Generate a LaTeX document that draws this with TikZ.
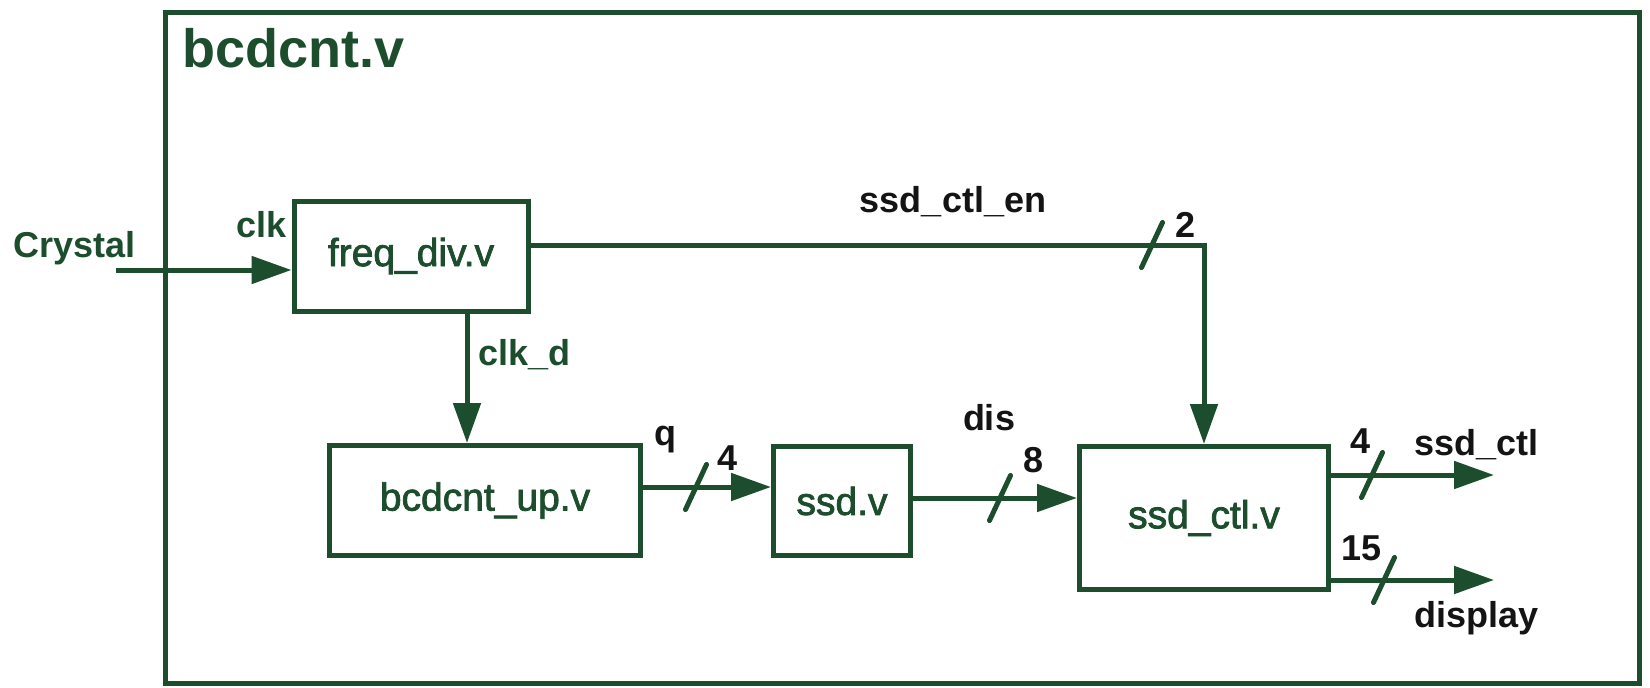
\documentclass[tikz,border=0pt]{standalone}
\usepackage{fontspec}
\setmainfont{Liberation Sans}
\newfontfamily\boxfont{Liberation Sans}[BoldFont={Liberation Sans},BoldFeatures={FakeBold=2}]
\usetikzlibrary{arrows.meta}
\definecolor{dg}{RGB}{28,77,44}
\definecolor{ink}{RGB}{20,20,20}
\tikzset{
  blk/.style={draw=dg, line width=5pt, fill=white, text=dg, font=\boxfont\fontsize{39}{43}\selectfont\bfseries, inner sep=0pt},
  sig/.style={draw=dg, line width=5pt},
  sigarr/.style={sig, -{Triangle[length=40pt,width=27pt]}},
  slash/.style={draw=dg, line width=5pt, line cap=round},
  glab/.style={text=dg, font=\fontsize{36}{40}\selectfont\bfseries, inner sep=0pt},
  klab/.style={text=ink, font=\fontsize{36}{40}\selectfont\bfseries, inner sep=0pt},
}
\begin{document}
\begin{tikzpicture}[x=1pt,y=-1pt]
\useasboundingbox (0,0) rectangle (1650,688);
\fill[white] (0,0) rectangle (1650,688);
% outer module
\draw[sig] (165.5,12.5) rectangle (1639.5,683);
\node[glab, anchor=base west, font=\fontsize{54}{60}\selectfont\bfseries] (title) at (182,67) {bcdcnt.v};
% blocks
\node[blk, minimum width=234pt, minimum height=110pt] (fd) at (411,256) {freq\_div.v};
\node[blk, minimum width=311pt, minimum height=110pt] (bu) at (485,500.5) {bcdcnt\_up.v};
\node[blk, minimum width=137pt, minimum height=109pt] (sd) at (842,501) {ssd.v};
\node[blk, minimum width=249pt, minimum height=143pt] (sc) at (1204,518) {ssd\_ctl.v};
% free ends
\coordinate (cin) at (116,270);
\coordinate (oc) at (1494,475);
\coordinate (od) at (1494,580);
% connectors
\draw[sigarr] (cin) -- (cin -| fd.west);
\draw[sigarr] (fd.east |- 0,245) -| (sc.north);
\draw[sigarr] (fd.south -| 467,0) -- (bu.north -| 467,0);
\draw[sigarr] (bu.east |- 0,487) -- (sd.west |- 0,487);
\draw[sigarr] (sd.east |- 0,498) -- (sc.west |- 0,498);
\draw[sigarr] (sc.east |- oc) -- (oc);
\draw[sigarr] (sc.east |- od) -- (od);
% bus slashes
\foreach \p in {(1152,245),(696,487),(1000,498),(1372,475),(1384,580)}{
  \draw[slash] \p ++(-10.5,22.5) -- ++(21,-45);
}
% labels
\node[glab, anchor=base west] (lcry) at (13,257) {Crystal};
\node[glab, anchor=base east] (lclk) at (287,237) {clk};
\node[glab, anchor=base west] (lclkd) at (478,365) {clk\_d};
\node[klab, anchor=base] (len) at (953,212) {ssd\_ctl\_en};
\node[klab, anchor=base west] (l2) at (1175,237) {2};
\node[klab, anchor=base west] (lq) at (654,445) {q};
\node[klab, anchor=base west] (l4a) at (717,470) {4};
\node[klab, anchor=base] (ldis) at (989,430) {dis};
\node[klab, anchor=base west] (l8) at (1023,472) {8};
\node[klab, anchor=base west] (l4b) at (1350,453) {4};
\node[klab, anchor=base west] (lsc) at (1414,455) {ssd\_ctl};
\node[klab, anchor=base west] (l15) at (1341,560) {15};
\node[klab, anchor=base west] (ldisp) at (1414,627) {display};
\end{tikzpicture}
\end{document}
